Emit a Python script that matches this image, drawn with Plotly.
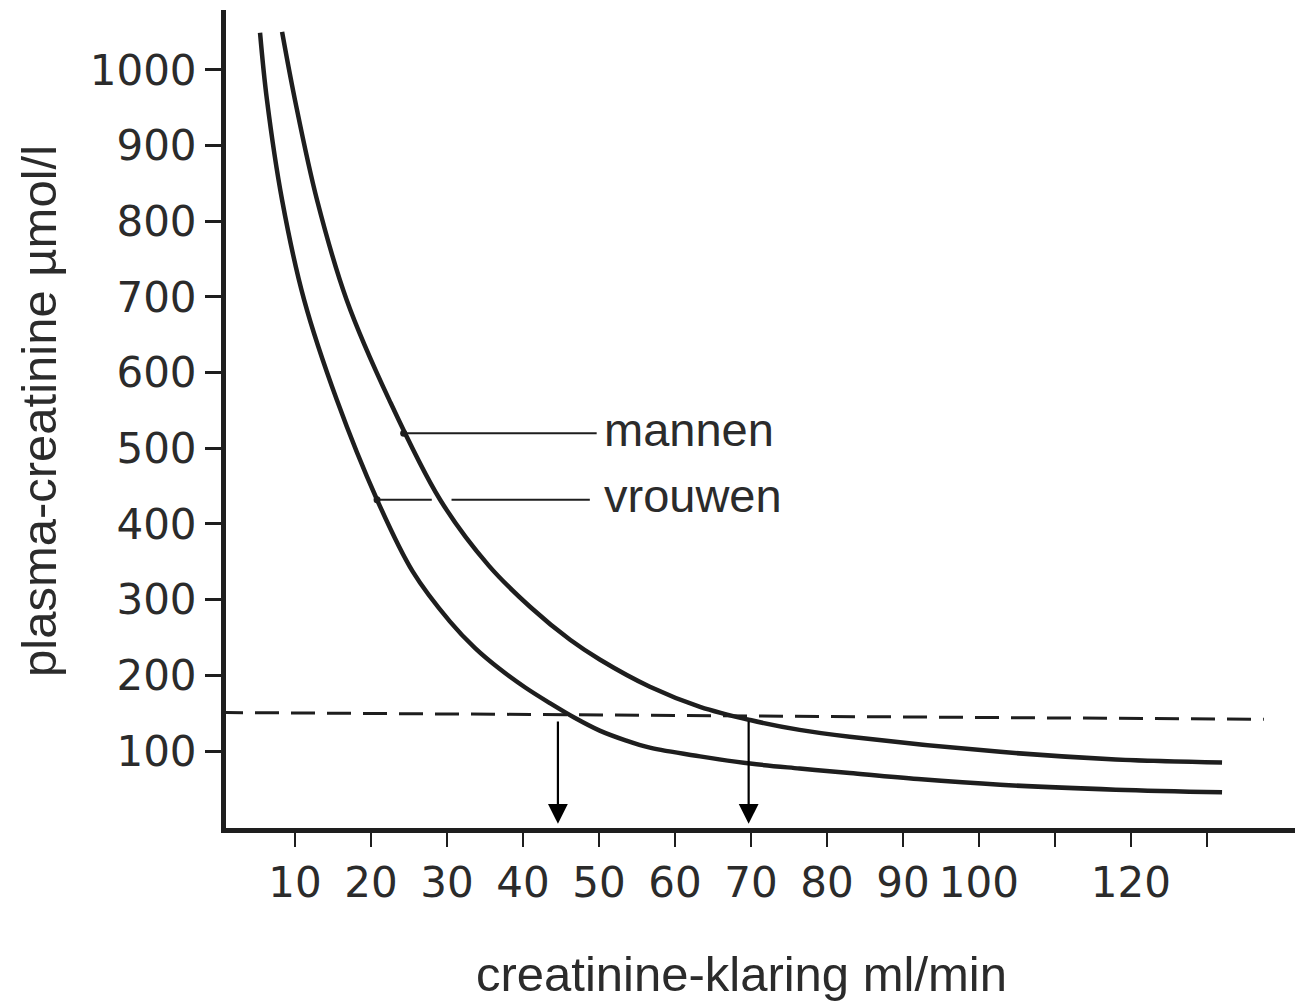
import plotly.graph_objects as go

# --- data ---
vrouwen_x = [5.4, 6.3, 8.3, 11.2, 15.5, 20.8, 25.5, 30.4, 33.7, 37.0, 40.3, 43.6, 46.8, 50.1, 53.4, 56.7, 63.3, 69.9, 76.4, 83.0, 92.0, 102.8, 118.0, 132.0]
vrouwen_y = [1049, 961, 828, 696, 564, 432, 337, 271, 236, 208, 184, 163, 144, 127, 114.5, 104.5, 93, 83.5, 77, 71, 63, 55.5, 49, 45.5]

mannen_x = [8.3, 10.0, 12.9, 16.8, 22.4, 29.1, 35.5, 41.0, 46.2, 50.1, 56.7, 63.3, 69.9, 76.4, 83.0, 102.8, 118.0, 132.0]
mannen_y = [1050, 960, 828, 696, 564, 432, 345, 290, 247, 221, 185, 158.5, 141, 128, 119, 99, 89, 85]

grens_x = [0, 137.5]        # dashed reference line
grens_y = [151, 142]

pijl_x = [44.6, 69.7]       # arrows to the x-axis
pijl_top = 141
pijl_bottom = 4

label_names = ["mannen", "vrouwen"]
label_dot_x = [24.3, 20.8]
label_dot_y = [520, 432]
label_end_x = [49.7, 48.8]
label_text_x = [50.9, 50.9]
vrouwen_gap = [28.0, 30.6]

x_tickvals = [10, 20, 30, 40, 50, 60, 70, 80, 90, 100, 110, 120, 130]
x_ticktext = ["10", "20", "30", "40", "50", "60", "70", "80", "90", "100", "", "120", ""]
y_tickvals = [100, 200, 300, 400, 500, 600, 700, 800, 900, 1000]

INK = "#1e1e1e"
TXT = "#2b2b2b"
FONT = "Liberation Sans, Arial, sans-serif"
NUMFONT = "DejaVu Sans, sans-serif"

fig = go.Figure()

for xs, ys in [(vrouwen_x, vrouwen_y), (mannen_x, mannen_y)]:
    fig.add_trace(go.Scatter(x=xs, y=ys, mode="lines",
                             line=dict(color=INK, width=4.5, shape="spline", smoothing=1.0),
                             hoverinfo="skip", showlegend=False))

fig.add_trace(go.Scatter(x=grens_x, y=grens_y, mode="lines",
                         line=dict(color=INK, width=3, dash="24px,12px"),
                         hoverinfo="skip", showlegend=False))

# leader lines
fig.add_trace(go.Scatter(x=[label_dot_x[0], label_end_x[0]], y=[label_dot_y[0], label_dot_y[0]],
                         mode="lines", line=dict(color=INK, width=2), hoverinfo="skip", showlegend=False))
fig.add_trace(go.Scatter(x=[label_dot_x[1], vrouwen_gap[0], None, vrouwen_gap[1], label_end_x[1]],
                         y=[label_dot_y[1], label_dot_y[1], None, label_dot_y[1], label_dot_y[1]],
                         mode="lines", line=dict(color=INK, width=2), hoverinfo="skip", showlegend=False))
fig.add_trace(go.Scatter(x=label_dot_x, y=label_dot_y, mode="markers",
                         marker=dict(color=INK, size=7), hoverinfo="skip", showlegend=False))

for name, tx, ty in zip(label_names, label_text_x, label_dot_y):
    fig.add_annotation(x=tx, y=ty, text=name, showarrow=False, xanchor="left", yanchor="middle",
                       font=dict(family=FONT, size=47, color=TXT), xshift=-4, yshift=4)

for px in pijl_x:
    fig.add_annotation(x=px, y=pijl_bottom, ax=px, ay=pijl_top, xref="x", yref="y",
                       axref="x", ayref="y", text="", showarrow=True,
                       arrowhead=2, arrowsize=1.8, arrowwidth=2.2, arrowcolor="#000", standoff=0)

# axis titles
fig.add_annotation(xref="paper", yref="paper", x=0, y=0.5, xshift=-216, yshift=8,
                   text="plasma-creatinine µmol/l", textangle=-90, showarrow=False,
                   font=dict(family=FONT, size=49, color=TXT))
fig.add_annotation(xref="paper", yref="paper", x=0.5, y=0, xshift=-19, yshift=-175,
                   text="creatinine-klaring ml/min", showarrow=False,
                   font=dict(family=FONT, size=49, color=TXT))

fig.update_xaxes(range=[0.92, 141.6], tickvals=x_tickvals, ticktext=x_ticktext,
                 ticks="outside", ticklen=14, tickwidth=2, tickcolor=INK,
                 showline=True, linewidth=5, linecolor=INK, showgrid=False, zeroline=False,
                 ticklabelstandoff=0,
                 tickfont=dict(family=NUMFONT, size=42, color=TXT))
fig.update_yaxes(range=[-1.6, 1079], tickvals=y_tickvals,
                 ticks="outside", ticklen=16, tickwidth=2.5, tickcolor=INK,
                 showline=True, linewidth=5, linecolor=INK, showgrid=False, zeroline=False,
                 ticklabelstandoff=0,
                 tickfont=dict(family=NUMFONT, size=42, color=TXT))

fig.update_layout(width=1299, height=1004, margin=dict(l=226, r=4, t=10, b=176),
                  paper_bgcolor="white", plot_bgcolor="white", showlegend=False)

fig.write_html("out.html")
